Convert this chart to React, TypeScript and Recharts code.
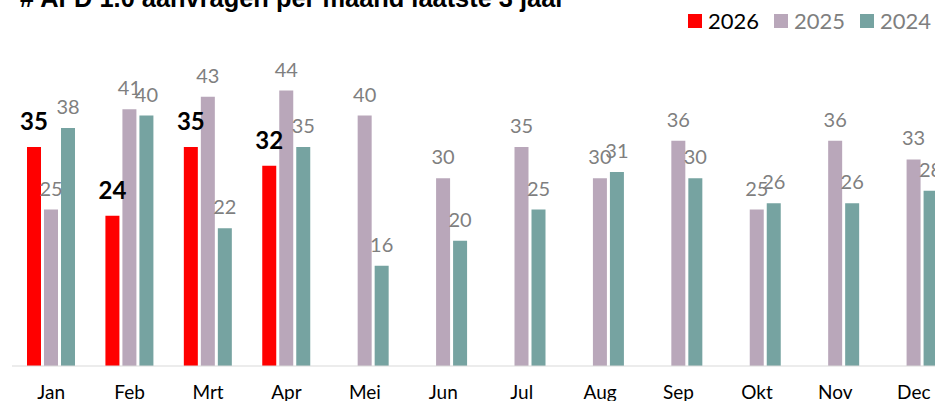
import { BarChart, Bar, XAxis, YAxis, LabelList } from 'recharts';

const months = ['Jan', 'Feb', 'Mrt', 'Apr', 'Mei', 'Jun', 'Jul', 'Aug', 'Sep', 'Okt', 'Nov', 'Dec'];
const y2026 = [35, 24, 35, 32, null, null, null, null, null, null, null, null];
const y2025 = [25, 41, 43, 44, 40, 30, 35, 30, 36, 25, 36, 33];
const y2024 = [38, 40, 22, 35, 16, 20, 25, 31, 30, 26, 26, 28];

const data = months.map((m, i) => ({
  month: m,
  y2026: y2026[i],
  y2025: y2025[i],
  y2024: y2024[i],
}));

const series = [
  { key: 'y2026', name: '2026', color: '#FF0000', text: '#000000' },
  { key: 'y2025', name: '2025', color: '#B9A7BA', text: '#7F7F7F' },
  { key: 'y2024', name: '2024', color: '#76A3A1', text: '#7F7F7F' },
];

const FONT = 'Lato, "Open Sans", sans-serif';

// value label above each bar, skipped for empty months
const makeLabel = (bold: boolean) => (props: any) => {
  const { x, y, width, value } = props;
  if (value == null) return null;
  return (
    <text
      x={x + width / 2}
      y={y - (bold ? 17 : 14)}
      textAnchor="middle"
      fontFamily={FONT}
      fontSize={bold ? 24 : 20}
      fontWeight={bold ? 700 : 400}
      fill={bold ? '#000000' : '#7F7F7F'}
    >
      {value}
    </text>
  );
};

function LegendBox() {
  return (
    <div
      style={{
        position: 'absolute',
        left: 688,
        top: 10,
        display: 'flex',
        alignItems: 'center',
        fontFamily: FONT,
        fontSize: 22,
      }}
    >
      {series.map((s) => (
        <div key={s.key} style={{ display: 'flex', alignItems: 'center', marginRight: 15 }}>
          <span style={{ width: 14, height: 14, background: s.color, display: 'inline-block', marginRight: 6 }} />
          <span style={{ color: s.text, lineHeight: '22px' }}>{s.name}</span>
        </div>
      ))}
    </div>
  );
}

export default function App() {
  return (
    <div
      style={{
        position: 'fixed',
        left: 0,
        top: 0,
        width: 935,
        height: 401,
        overflow: 'hidden',
        background: '#fff',
      }}
    >
      <div
        style={{
          position: 'absolute',
          left: 20,
          top: -14,
          fontFamily: '"Liberation Sans", Arial, sans-serif',
          fontWeight: 700,
          fontSize: 25.4,
          lineHeight: '25px',
          color: '#000',
          whiteSpace: 'nowrap',
        }}
      >
        # AFD 1.0 aanvragen per maand laatste 3 jaar
      </div>
      <LegendBox />
      <div style={{ position: 'absolute', left: 0, top: 0 }}>
        <BarChart
          width={1000}
          height={420}
          data={data}
          margin={{ top: 53, right: 47, bottom: 0, left: 12 }}
          barSize={14}
          barGap={3}
        >
          <XAxis
            dataKey="month"
            height={54}
            tickLine={false}
            tickMargin={14}
            axisLine={{ stroke: '#D9D9D9', strokeWidth: 1 }}
            tick={{ fill: '#000000', fontSize: 19, fontFamily: FONT }}
            interval={0}
          />
          <YAxis hide domain={[0, 50]} />
          {series.map((s, idx) => (
            <Bar key={s.key} dataKey={s.key} name={s.name} fill={s.color} isAnimationActive={false}>
              <LabelList dataKey={s.key} content={makeLabel(idx === 0)} />
            </Bar>
          ))}
        </BarChart>
      </div>
    </div>
  );
}
